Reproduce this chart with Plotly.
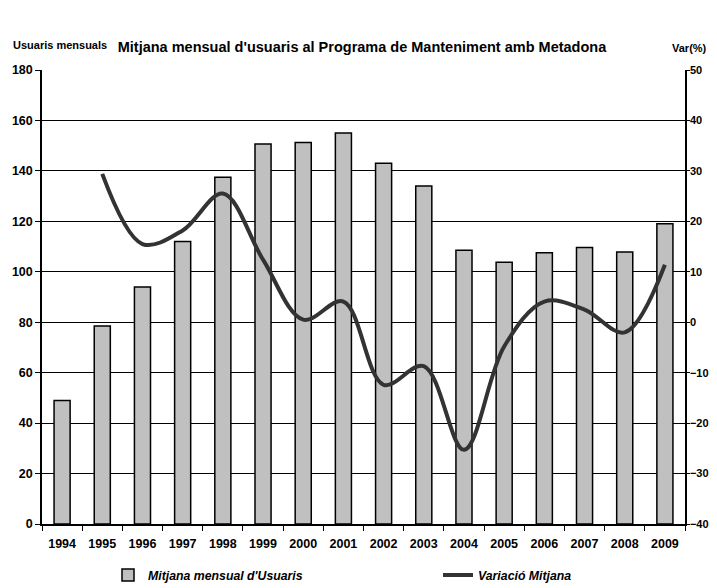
import plotly.graph_objects as go

years = ["1994", "1995", "1996", "1997", "1998", "1999", "2000", "2001",
         "2002", "2003", "2004", "2005", "2006", "2007", "2008", "2009"]
usuaris = [49, 78.5, 94, 112, 137.5, 150.7, 151.3, 155, 143, 134, 108.5, 103.8, 107.5, 109.6, 107.8, 119]
var_years = years[1:]
variacio = [29.4, 15.5, 18.2, 25.5, 12.4, 0.5, 4.1, -12.4, -8.7, -25.3, -4.8, 4.1, 2.5, -2.0, 11.4]

y_ticks = list(range(0, 181, 20))
y2_ticks = list(range(-40, 51, 10))

FONT = "Liberation Sans, Arial, sans-serif"
# page body has an 8px margin; figure drawn from (8, 8)
OFF = 8
W, H = 717 - OFF, 588 - OFF

fig = go.Figure()
fig.add_trace(go.Bar(
    x=years, y=usuaris, name="Mitjana mensual d'Usuaris",
    marker=dict(color="#c0c0c0", line=dict(color="#000000", width=1.5)),
    width=0.4, legend="legend",
))
fig.add_trace(go.Scatter(
    x=var_years, y=variacio, name="Variació Mitjana", yaxis="y2",
    mode="lines", line=dict(color="#333333", width=4, shape="spline", smoothing=1.0),
    legend="legend2",
))

legend_font = dict(size=12.3, style="italic", weight="bold", family=FONT)

fig.update_layout(
    width=W, height=H,
    margin=dict(l=42 - OFF, r=32, t=70 - OFF, b=64, autoexpand=False),
    paper_bgcolor="white", plot_bgcolor="white",
    font=dict(family=FONT, size=12, color="#000000"),
    title=dict(text="<b>Mitjana mensual d'usuaris al Programa de Manteniment amb Metadona</b>",
               x=(362 - OFF) / W, xanchor="center", xref="container",
               y=1 - (47 - OFF) / H, yanchor="middle", yref="container",
               font=dict(size=14.5, family=FONT)),
    showlegend=True,
    legend=dict(orientation="h", xref="container", yref="container",
                x=100 / W, xanchor="left", y=1 - (575 - OFF) / H, yanchor="middle",
                font=legend_font, bgcolor="rgba(0,0,0,0)"),
    legend2=dict(orientation="h", xref="container", yref="container",
                 x=430 / W, xanchor="left", y=1 - (575 - OFF) / H, yanchor="middle",
                 font=legend_font, bgcolor="rgba(0,0,0,0)"),
    bargap=0.6,
    xaxis=dict(
        type="category", range=[-0.5, 15.5], automargin=False,
        showline=True, linecolor="#000", linewidth=1.5,
        ticks="outside", ticklen=5, tickcolor="#000", tickson="boundaries",
        tickfont=dict(size=12.5, weight="bold"), ticklabelstandoff=7,
        showgrid=False,
    ),
    yaxis=dict(
        range=[0, 180], tickvals=y_ticks, automargin=False,
        showline=True, linecolor="#000", linewidth=1.5,
        ticks="outside", ticklen=5, tickcolor="#000",
        showgrid=True, gridcolor="#000", gridwidth=1,
        tickfont=dict(size=12.5, weight="bold"), zeroline=False,
    ),
    yaxis2=dict(
        range=[-40, 50], tickvals=y2_ticks, overlaying="y", side="right",
        automargin=False,
        showline=True, linecolor="#000", linewidth=1.5,
        ticks="outside", ticklen=3, tickcolor="#000",
        showgrid=False, zeroline=False,
        tickfont=dict(size=11, weight="bold"), ticklabelstandoff=-2,
    ),
    annotations=[
        dict(text="<b>Usuaris mensuals</b>", xref="paper", yref="paper",
             x=(11 - 42) / 643, y=(524 - 45) / 454, xanchor="left", yanchor="middle",
             showarrow=False, font=dict(size=11, family=FONT)),
        dict(text="<b>Var(%)</b>", xref="paper", yref="paper",
             x=(709 - 42) / 643, y=(524 - 48) / 454, xanchor="right", yanchor="middle",
             showarrow=False, font=dict(size=11, family=FONT)),
    ],
)

fig.write_html("out.html")
